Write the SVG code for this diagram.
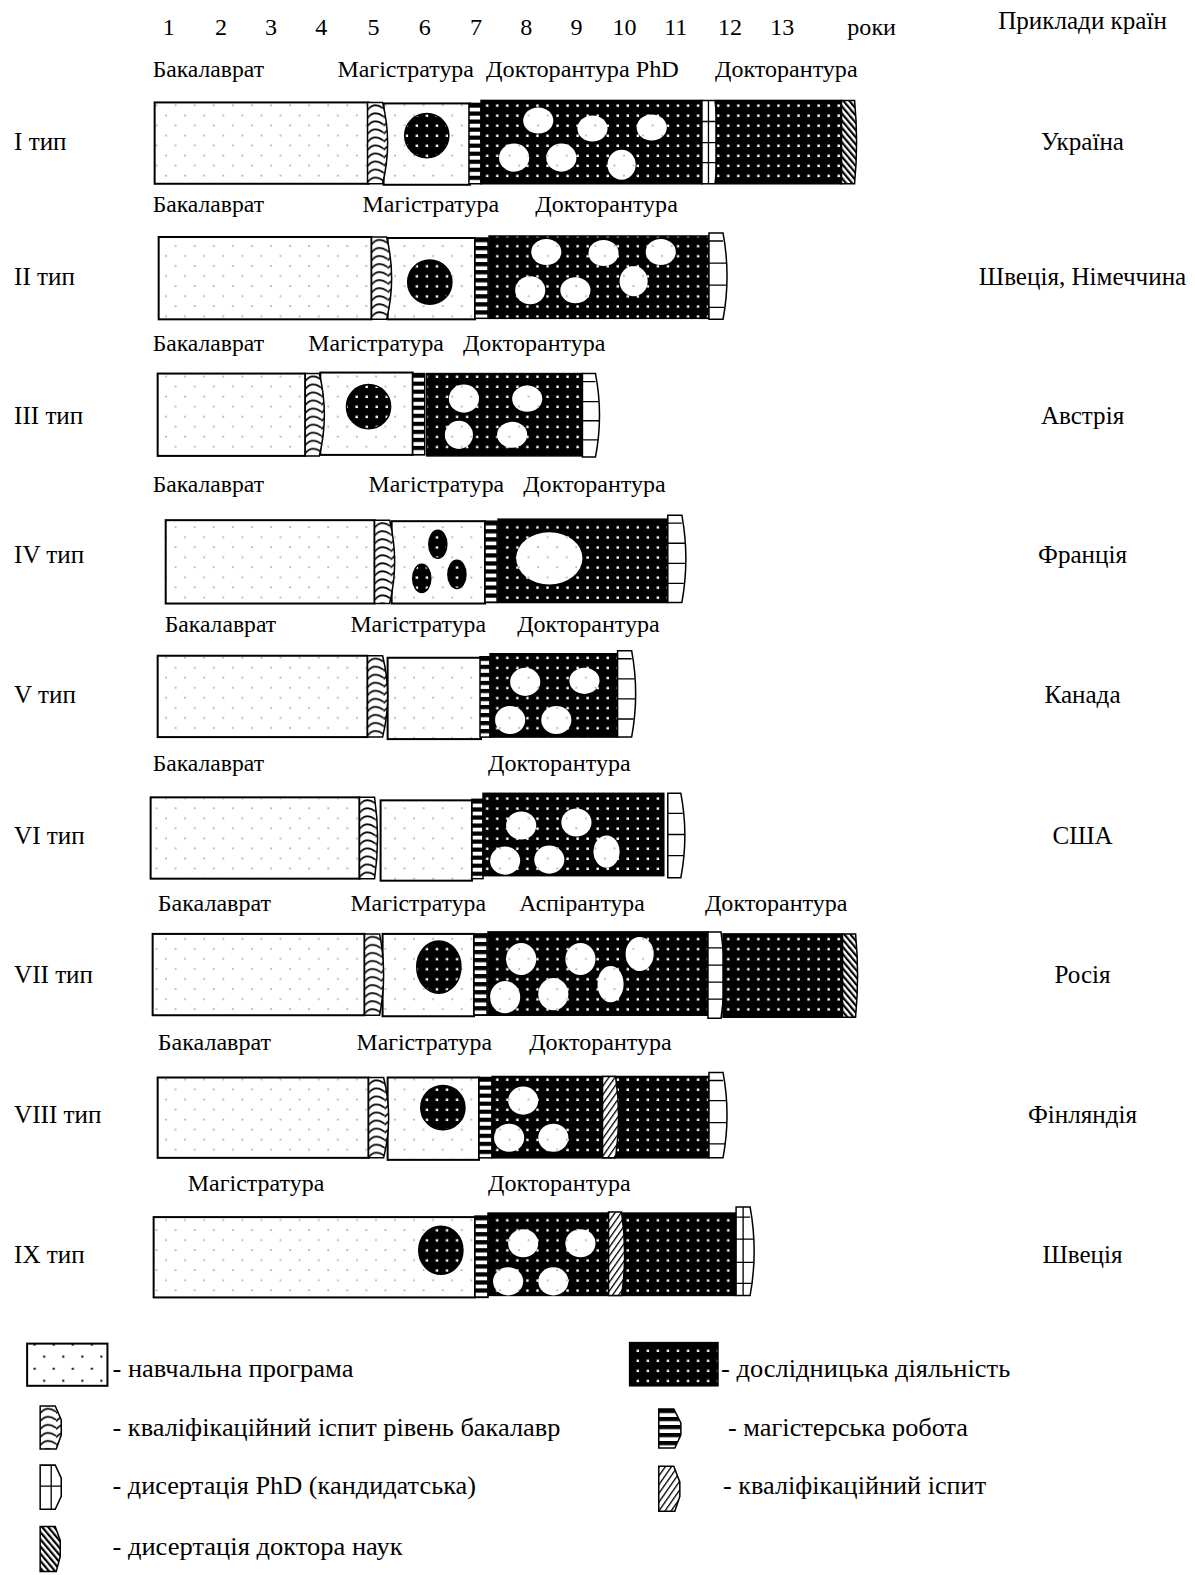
<svg xmlns="http://www.w3.org/2000/svg" width="1195" height="1575" viewBox="0 0 1195 1575">
<defs>
<pattern id="st" patternUnits="userSpaceOnUse" width="19" height="20"><rect width="19" height="20" fill="#fff"/><rect x="3" y="4" width="1.8" height="1.8" fill="#b4b4b4"/><rect x="12.5" y="14" width="1.8" height="1.8" fill="#b4b4b4"/></pattern>
<pattern id="stL" patternUnits="userSpaceOnUse" width="19" height="24"><rect width="19" height="24" fill="#fff"/><rect x="5" y="6" width="2" height="2" fill="#000"/><rect x="14.5" y="18" width="2" height="2" fill="#000"/></pattern>
<pattern id="rs" patternUnits="userSpaceOnUse" width="10" height="10"><rect width="10" height="10" fill="#000"/><rect x="4" y="4" width="2.4" height="2.4" fill="#fff"/></pattern>
<pattern id="wv" patternUnits="userSpaceOnUse" width="16" height="8"><rect width="16" height="8" fill="#fff"/><path d="M0,7.5 Q6,-1 16,6" fill="none" stroke="#000" stroke-width="1.6"/></pattern>
<pattern id="mw" patternUnits="userSpaceOnUse" width="14" height="8"><rect width="14" height="8" fill="#fff"/><rect y="0" width="14" height="4.2" fill="#000"/></pattern>
<pattern id="dh" patternUnits="userSpaceOnUse" width="4.6" height="10" patternTransform="rotate(-40)"><rect width="4.6" height="10" fill="#fff"/><rect width="2.2" height="10" fill="#000"/></pattern>
<pattern id="qe" patternUnits="userSpaceOnUse" width="5" height="10" patternTransform="rotate(35)"><rect width="5" height="10" fill="#fff"/><rect width="1.3" height="10" fill="#000"/></pattern>
<style>
.study{fill:url(#st);stroke:#000;stroke-width:2}
.res{fill:url(#rs);stroke:#000;stroke-width:1.5}
.hole{fill:url(#st)}
.wave{fill:url(#wv);stroke:#000;stroke-width:1.5}
.mw{fill:url(#mw);stroke:#000;stroke-width:1.5}
.phd{fill:#fff;stroke:#000;stroke-width:1.5}
.ln{fill:none;stroke:#000;stroke-width:1.3}
.dh{fill:url(#dh);stroke:#000;stroke-width:1.5}
.qe{fill:url(#qe);stroke:#000;stroke-width:1.5}
text{font-family:"Liberation Serif","Times New Roman",serif;fill:#000}
.n{font-size:24px;text-anchor:middle}
.l{font-size:24px}
.ty{font-size:25px}
.c{font-size:25px;text-anchor:middle}
.lg{font-size:25px}
</style>
</defs>
<rect width="1195" height="1575" fill="#fff"/>
<g transform="scale(1.0042)">
<g id="header">
<text class="n" x="168" y="35">1</text><text class="n" x="220" y="35">2</text><text class="n" x="270" y="35">3</text><text class="n" x="320" y="35">4</text><text class="n" x="372" y="35">5</text><text class="n" x="423" y="35">6</text><text class="n" x="474" y="35">7</text><text class="n" x="524" y="35">8</text><text class="n" x="574" y="35">9</text><text class="n" x="622" y="35">10</text><text class="n" x="673" y="35">11</text><text class="n" x="727" y="35">12</text><text class="n" x="779" y="35">13</text><text class="n" x="868" y="35">роки</text>
<text class="c" x="1078" y="29">Приклади країн</text>
</g>

<g id="row1">
<text class="l" x="152" y="77" textLength="111" lengthAdjust="spacingAndGlyphs">Бакалаврат</text>
<text class="l" x="336" y="77" textLength="136" lengthAdjust="spacingAndGlyphs">Магістратура</text>
<text class="l" x="484" y="77" textLength="192" lengthAdjust="spacingAndGlyphs">Докторантура PhD</text>
<text class="l" x="712" y="77" textLength="142" lengthAdjust="spacingAndGlyphs">Докторантура</text>
<text class="ty" x="14" y="149">I тип</text>
<text class="c" x="1078" y="149">Україна</text>
<rect class="study" x="154" y="102" width="213" height="81"/>
<rect class="study" x="382" y="103" width="86" height="81"/>
<circle class="res" cx="425" cy="135" r="22"/>
<g transform="translate(366,102)"><path class="wave" d="M0,0 H15 Q25,40.5 15,81 H0 Z"/></g>
<g transform="translate(467,103)"><rect class="mw" width="12" height="80"/></g>
<rect class="res" x="479" y="100" width="220" height="83"/>
<ellipse class="hole" cx="536" cy="120" rx="15" ry="13"/>
<ellipse class="hole" cx="590" cy="128" rx="15" ry="13"/>
<ellipse class="hole" cx="649" cy="127" rx="15" ry="13"/>
<ellipse class="hole" cx="512" cy="157" rx="15" ry="14"/>
<ellipse class="hole" cx="559" cy="157" rx="15" ry="14"/>
<ellipse class="hole" cx="619" cy="164" rx="14" ry="15"/>
<g transform="translate(699,100)"><path class="phd" d="M0,0 H13 Q19,41.5 13,83 H0 Z"/><path class="ln" d="M0,21 H15 M0,42 H16 M0,62 H15 M6.5,0 V83"/></g>
<rect class="res" x="713" y="100" width="125" height="83"/>
<g transform="translate(838,100)"><path class="dh" d="M0,0 H13 Q17,41.5 13,83 H0 Z"/></g>
</g>

<g id="row2">
<text class="l" x="152" y="211" textLength="111" lengthAdjust="spacingAndGlyphs">Бакалаврат</text>
<text class="l" x="361" y="211" textLength="136" lengthAdjust="spacingAndGlyphs">Магістратура</text>
<text class="l" x="533" y="211" textLength="142" lengthAdjust="spacingAndGlyphs">Докторантура</text>
<text class="ty" x="14" y="284">II тип</text>
<text class="c" x="1078" y="284">Швеція, Німеччина</text>
<rect class="study" x="158" y="236" width="212" height="82"/>
<rect class="study" x="386" y="237" width="87" height="81"/>
<circle class="res" cx="428" cy="281" r="22"/>
<g transform="translate(370,236)"><path class="wave" d="M0,0 H15 Q25,41 15,82 H0 Z"/></g>
<g transform="translate(473,237)"><rect class="mw" width="13" height="80"/></g>
<rect class="res" x="487" y="235" width="219" height="82"/>
<ellipse class="hole" cx="544" cy="251" rx="15" ry="13"/>
<ellipse class="hole" cx="601" cy="252" rx="15" ry="13"/>
<ellipse class="hole" cx="658" cy="251" rx="15" ry="13"/>
<ellipse class="hole" cx="528" cy="289" rx="15" ry="14"/>
<ellipse class="hole" cx="573" cy="289" rx="15" ry="13"/>
<ellipse class="hole" cx="631" cy="280" rx="14" ry="15"/>
<g transform="translate(706,232)"><path class="phd" d="M0,0 H14 Q22,43 14,86 H0 Z"/><path class="ln" d="M0,8 H14 M0,30 H17 M0,52 H17 M0,74 H15"/></g>
</g>

<g id="row3">
<text class="l" x="152" y="350" textLength="111" lengthAdjust="spacingAndGlyphs">Бакалаврат</text>
<text class="l" x="307" y="350" textLength="135" lengthAdjust="spacingAndGlyphs">Магістратура</text>
<text class="l" x="461" y="350" textLength="142" lengthAdjust="spacingAndGlyphs">Докторантура</text>
<text class="ty" x="14" y="422">III тип</text>
<text class="c" x="1078" y="422">Австрія</text>
<rect class="study" x="157" y="372" width="147" height="82"/>
<rect class="study" x="319" y="371" width="92" height="82"/>
<circle class="res" cx="367" cy="405" r="22"/>
<g transform="translate(304,372)"><path class="wave" d="M0,0 H14 Q24,41 14,82 H0 Z"/></g>
<g transform="translate(411,372)"><rect class="mw" width="12" height="81"/></g>
<rect class="res" x="425" y="372" width="155" height="82"/>
<ellipse class="hole" cx="462" cy="397" rx="15" ry="14"/>
<ellipse class="hole" cx="525" cy="397" rx="15" ry="13"/>
<ellipse class="hole" cx="457" cy="433" rx="14" ry="14"/>
<ellipse class="hole" cx="510" cy="433" rx="15" ry="13"/>
<g transform="translate(580,372)"><path class="phd" d="M0,0 H13 Q21,41.5 13,83 H0 Z"/><path class="ln" d="M0,8 H13 M0,28 H16 M0,47 H17 M0,66 H16"/></g>
</g>

<g id="row4">
<text class="l" x="152" y="490" textLength="111" lengthAdjust="spacingAndGlyphs">Бакалаврат</text>
<text class="l" x="367" y="490" textLength="135" lengthAdjust="spacingAndGlyphs">Магістратура</text>
<text class="l" x="521" y="490" textLength="142" lengthAdjust="spacingAndGlyphs">Докторантура</text>
<text class="ty" x="14" y="561">IV тип</text>
<text class="c" x="1078" y="561">Франція</text>
<rect class="study" x="165" y="518" width="208" height="83"/>
<rect class="study" x="390" y="519" width="93" height="82"/>
<ellipse class="res" cx="436" cy="542" rx="9" ry="14"/>
<ellipse class="res" cx="420" cy="576" rx="9" ry="14"/>
<ellipse class="res" cx="455" cy="572" rx="9" ry="14"/>
<g transform="translate(373,518)"><path class="wave" d="M0,0 H15 Q25,41.5 15,83 H0 Z"/></g>
<g transform="translate(483,519)"><rect class="mw" width="12" height="81"/></g>
<rect class="res" x="496" y="517" width="169" height="83"/>
<ellipse class="hole" cx="547" cy="556" rx="33" ry="26"/>
<g transform="translate(665,513)"><path class="phd" d="M0,0 H14 Q22,43.5 14,87 H0 Z"/><path class="ln" d="M0,8 H14 M0,28 H17 M0,48 H18 M0,68 H16"/></g>
</g>

<g id="row5">
<text class="l" x="164" y="629" textLength="111" lengthAdjust="spacingAndGlyphs">Бакалаврат</text>
<text class="l" x="349" y="629" textLength="135" lengthAdjust="spacingAndGlyphs">Магістратура</text>
<text class="l" x="515" y="629" textLength="142" lengthAdjust="spacingAndGlyphs">Докторантура</text>
<text class="ty" x="14" y="700">V тип</text>
<text class="c" x="1078" y="700">Канада</text>
<rect class="study" x="157" y="653" width="209" height="81"/>
<rect class="study" x="386" y="655" width="93" height="81"/>
<g transform="translate(366,653)"><path class="wave" d="M0,0 H15 Q25,40.5 15,81 H0 Z"/></g>
<g transform="translate(478,654)"><rect class="mw" width="10" height="80"/></g>
<rect class="res" x="488" y="651" width="127" height="83"/>
<ellipse class="hole" cx="523" cy="679" rx="15" ry="14"/>
<ellipse class="hole" cx="582" cy="678" rx="15" ry="13"/>
<ellipse class="hole" cx="508" cy="717" rx="15" ry="14"/>
<ellipse class="hole" cx="554" cy="717" rx="15" ry="14"/>
<g transform="translate(615,648)"><path class="phd" d="M0,0 H14 Q22,43 14,86 H0 Z"/><path class="ln" d="M0,8 H14 M0,28 H17 M0,48 H18 M0,68 H16"/></g>
</g>

<g id="row6">
<text class="l" x="152" y="768" textLength="111" lengthAdjust="spacingAndGlyphs">Бакалаврат</text>
<text class="l" x="486" y="768" textLength="142" lengthAdjust="spacingAndGlyphs">Докторантура</text>
<text class="ty" x="14" y="840">VI тип</text>
<text class="c" x="1078" y="840">США</text>
<rect class="study" x="150" y="794" width="208" height="81"/>
<rect class="study" x="379" y="797" width="91" height="80"/>
<g transform="translate(358,794)"><path class="wave" d="M0,0 H15 Q21,40.5 15,81 H0 Z"/></g>
<g transform="translate(470,796)"><rect class="mw" width="11" height="79"/></g>
<rect class="res" x="481" y="790" width="180" height="82"/>
<ellipse class="hole" cx="519" cy="822" rx="15" ry="14"/>
<ellipse class="hole" cx="574" cy="819" rx="15" ry="14"/>
<ellipse class="hole" cx="503" cy="857" rx="15" ry="14"/>
<ellipse class="hole" cx="547" cy="856" rx="15" ry="14"/>
<ellipse class="hole" cx="604" cy="848" rx="13" ry="16"/>
<g transform="translate(665,790)"><path class="phd" d="M0,0 H13 Q21,42 13,84 H0 Z"/><path class="ln" d="M0,20 H15 M0,41 H17 M0,62 H16"/></g>
</g>

<g id="row7">
<text class="l" x="157" y="907" textLength="113" lengthAdjust="spacingAndGlyphs">Бакалаврат</text>
<text class="l" x="349" y="907" textLength="135" lengthAdjust="spacingAndGlyphs">Магістратура</text>
<text class="l" x="517" y="907" textLength="125" lengthAdjust="spacingAndGlyphs">Аспірантура</text>
<text class="l" x="702" y="907" textLength="142" lengthAdjust="spacingAndGlyphs">Докторантура</text>
<text class="ty" x="14" y="979">VII тип</text>
<text class="c" x="1078" y="979">Росія</text>
<rect class="study" x="152" y="930" width="211" height="81"/>
<rect class="study" x="381" y="930" width="91" height="82"/>
<ellipse class="res" cx="437" cy="963" rx="22" ry="26"/>
<g transform="translate(363,930)"><path class="wave" d="M0,0 H15 Q23,40.5 15,81 H0 Z"/></g>
<g transform="translate(472,930)"><rect class="mw" width="13" height="81"/></g>
<rect class="res" x="486" y="928" width="219" height="83"/>
<ellipse class="hole" cx="519" cy="955" rx="15" ry="16"/>
<ellipse class="hole" cx="578" cy="955" rx="15" ry="16"/>
<ellipse class="hole" cx="637" cy="950" rx="14" ry="17"/>
<ellipse class="hole" cx="503" cy="993" rx="15" ry="16"/>
<ellipse class="hole" cx="551" cy="990" rx="15" ry="16"/>
<ellipse class="hole" cx="608" cy="980" rx="13" ry="18"/>
<g transform="translate(705,928)"><path class="phd" d="M0,0 H13 Q20,43 13,86 H0 Z"/><path class="ln" d="M0,16 H15 M0,33 H17 M0,50 H17 M0,67 H16"/></g>
<rect class="res" x="720" y="930" width="119" height="83"/>
<g transform="translate(839,930)"><path class="dh" d="M0,0 H13 Q17,41.5 13,83 H0 Z"/></g>
</g>

<g id="row8">
<text class="l" x="157" y="1046" textLength="113" lengthAdjust="spacingAndGlyphs">Бакалаврат</text>
<text class="l" x="355" y="1046" textLength="135" lengthAdjust="spacingAndGlyphs">Магістратура</text>
<text class="l" x="527" y="1046" textLength="142" lengthAdjust="spacingAndGlyphs">Докторантура</text>
<text class="ty" x="14" y="1118">VIII тип</text>
<text class="c" x="1078" y="1118">Фінляндія</text>
<rect class="study" x="157" y="1073" width="210" height="80"/>
<rect class="study" x="386" y="1073" width="91" height="82"/>
<circle class="res" cx="441" cy="1103" r="22"/>
<g transform="translate(367,1073)"><path class="wave" d="M0,0 H15 Q25,40 15,80 H0 Z"/></g>
<g transform="translate(477,1073)"><rect class="mw" width="13" height="80"/></g>
<rect class="res" x="490" y="1072" width="216" height="81"/>
<ellipse class="hole" cx="521" cy="1096" rx="15" ry="14"/>
<ellipse class="hole" cx="507" cy="1133" rx="15" ry="14"/>
<ellipse class="hole" cx="551" cy="1133" rx="15" ry="14"/>
<g transform="translate(600,1072)"><path class="qe" d="M0,0 H13 Q19,40.5 13,81 H0 Z"/></g>
<g transform="translate(706,1068)"><path class="phd" d="M0,0 H14 Q22,42.5 14,85 H0 Z"/><path class="ln" d="M0,8 H14 M0,28 H17 M0,50 H18 M0,71 H16"/></g>
</g>

<g id="row9">
<text class="l" x="187" y="1186" textLength="136" lengthAdjust="spacingAndGlyphs">Магістратура</text>
<text class="l" x="486" y="1186" textLength="142" lengthAdjust="spacingAndGlyphs">Докторантура</text>
<text class="ty" x="14" y="1258">IX тип</text>
<text class="c" x="1078" y="1258">Швеція</text>
<rect class="study" x="153" y="1212" width="320" height="80"/>
<ellipse class="res" cx="439" cy="1245" rx="22" ry="24"/>
<g transform="translate(473,1211)"><rect class="mw" width="13" height="81"/></g>
<rect class="res" x="486" y="1208" width="247" height="82"/>
<ellipse class="hole" cx="521" cy="1238" rx="15" ry="14"/>
<ellipse class="hole" cx="578" cy="1238" rx="15" ry="14"/>
<ellipse class="hole" cx="506" cy="1276" rx="15" ry="14"/>
<ellipse class="hole" cx="551" cy="1276" rx="15" ry="14"/>
<g transform="translate(606,1207)"><path class="qe" d="M0,0 H13 Q19,41.5 13,83 H0 Z"/></g>
<g transform="translate(733,1202)"><path class="phd" d="M0,0 H14 Q22,44 14,88 H0 Z"/><path class="ln" d="M0,10 H14 M0,32 H17 M0,55 H18 M0,76 H16 M7,0 V88"/></g>
</g>

<g id="legend">
<rect x="27" y="1338" width="80" height="42" fill="url(#stL)" stroke="#000" stroke-width="2"/>
<text class="lg" x="112" y="1371" textLength="240" lengthAdjust="spacingAndGlyphs">- навчальна програма</text>
<g transform="translate(40,1400)"><path class="wave" d="M0,0 H15 L21,14 V29 L16,43 H0 Z"/></g>
<text class="lg" x="112" y="1430" textLength="446" lengthAdjust="spacingAndGlyphs">- кваліфікаційний іспит рівень бакалавр</text>
<g transform="translate(40,1459)"><path class="phd" d="M0,0 H15 L21,13 V31 L15,44 H0 Z"/><path class="ln" d="M11,0 V44 M0,21 H21"/></g>
<text class="lg" x="112" y="1488" textLength="362" lengthAdjust="spacingAndGlyphs">- дисертація PhD (кандидатська)</text>
<g transform="translate(40,1520)"><path class="dh" d="M0,0 H15 L20,14 V30 L16,45 H0 Z"/></g>
<text class="lg" x="112" y="1548" textLength="289" lengthAdjust="spacingAndGlyphs">- дисертація доктора наук</text>
<rect x="627" y="1337" width="88" height="43" fill="url(#rs)" stroke="#000" stroke-width="1.5"/>
<text class="lg" x="718" y="1371" textLength="288" lengthAdjust="spacingAndGlyphs">- дослідницька діяльність</text>
<g transform="translate(656,1403)"><path class="mw" d="M0,0 H15 L22,14 V26 L16,39 H0 Z"/></g>
<text class="lg" x="725" y="1430" textLength="239" lengthAdjust="spacingAndGlyphs">- магістерська робота</text>
<g transform="translate(656,1460)"><path class="qe" d="M0,0 H15 L21,16 V30 L16,45 H0 Z"/></g>
<text class="lg" x="720" y="1488" textLength="262" lengthAdjust="spacingAndGlyphs">- кваліфікаційний іспит</text>
</g>
<g id="connectors"/>
</g>
</svg>
